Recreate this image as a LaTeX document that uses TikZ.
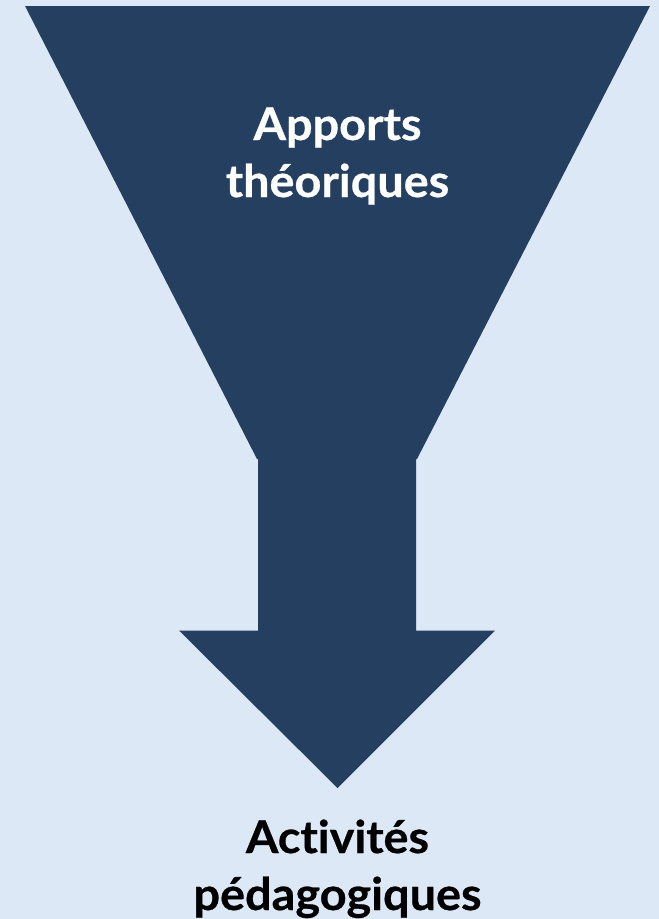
\documentclass[tikz,border=0pt]{standalone}
\usepackage{fontspec}
\setmainfont{Lato}[UprightFont=* Bold, FakeStretch=1.04, FakeBold=0.6, Ligatures={NoCommon,NoRare,NoDiscretionary}]
\definecolor{bgblue}{HTML}{DCE8F6}
\definecolor{navy}{HTML}{253F60}
\tikzset{
  shapefill/.style={fill=navy, draw=none},
  labeltext/.style={align=center, inner sep=0pt, font=\fontsize{45}{57}\selectfont, anchor=base}
}
\begin{document}
\begin{tikzpicture}[x=1pt,y=-1pt]
  \fill[bgblue] (0,0) rectangle (659,919);
  \useasboundingbox (0,0) rectangle (659,919);
  \fill[shapefill] (25,6) -- (650,6) -- (417,459) -- (416,459) -- (416,630.5) -- (495,630.5)
     -- (337.5,788) -- (179,630.5) -- (258,630.5) -- (258,459) -- (257,459) -- cycle;
  \node[labeltext, text=white] (top) at (337.5,197) {Apports\\théoriques};
  \node[labeltext, text=black] (bottom) at (337.5,910) {Activit{}és\\pédagogiques};
\end{tikzpicture}
\end{document}
